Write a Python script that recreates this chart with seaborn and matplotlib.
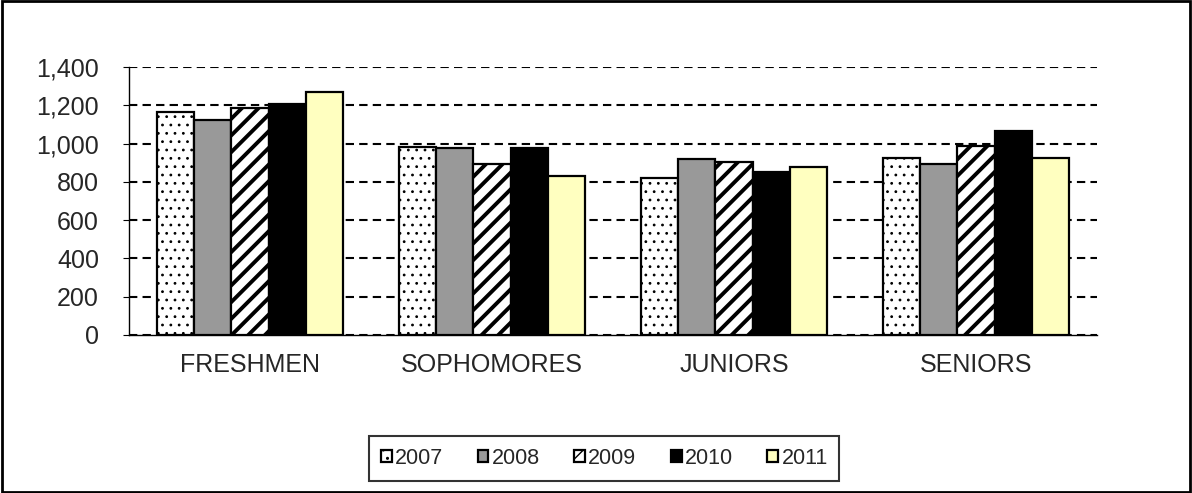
import matplotlib
matplotlib.use("Agg")
import matplotlib.pyplot as plt
import numpy as np
import pandas as pd
import seaborn as sns
from matplotlib.patches import Rectangle
from matplotlib.ticker import FuncFormatter, MultipleLocator

classes = ["FRESHMEN", "SOPHOMORES", "JUNIORS", "SENIORS"]
years = ["2007", "2008", "2009", "2010", "2011"]
counts_2007 = [1163, 984, 818, 926]
counts_2008 = [1123, 978, 919, 895]
counts_2009 = [1184, 893, 902, 989]
counts_2010 = [1208, 978, 851, 1066]
counts_2011 = [1268, 831, 876, 926]

colors = ["#FFFFFF", "#999999", "#FFFFFF", "#000000", "#FFFFC0"]
hatches = ["..", "", "//", "", ""]

rows = []
for year, vals in zip(years, [counts_2007, counts_2008, counts_2009, counts_2010, counts_2011]):
    for cls, v in zip(classes, vals):
        rows.append({"class": cls, "year": year, "count": v})
df = pd.DataFrame(rows)

sns.set_style("white")
plt.rcParams["font.family"] = ["Liberation Sans", "DejaVu Sans"]

fig = plt.figure(figsize=(11.92, 4.93), dpi=100)
ax = fig.add_axes([0.1082, 0.3205, 0.812, 0.5436])

sns.barplot(
    data=df, x="class", y="count", hue="year", order=classes, hue_order=years,
    palette=colors, width=0.77, edgecolor="black", linewidth=1.6,
    saturation=1, errorbar=None, ax=ax,
)

for container, hatch in zip(ax.containers, hatches):
    for bar in container.patches:
        bar.set_hatch(hatch)
        bar.set_edgecolor("black")
        if hatch == "//" and hasattr(bar, "set_hatch_linewidth"):
            bar.set_hatch_linewidth(2.8)
        elif hatch == ".." and hasattr(bar, "set_hatch_linewidth"):
            bar.set_hatch_linewidth(0.8)

ax.set_ylim(0, 1400)
ax.set_xlim(-0.5, 3.5)
ax.yaxis.set_major_locator(MultipleLocator(200))
ax.yaxis.set_major_formatter(FuncFormatter(lambda v, _: f"{int(v):,}"))
ax.grid(True, axis="y", color="black", linestyle=(0, (4, 2.5)), linewidth=1.5)
ax.set_axisbelow(True)

ax.set_xlabel("")
ax.set_ylabel("")
ax.set_xticks(np.arange(-0.5, 4, 1.0), minor=True)
ax.tick_params(axis="x", which="major", length=0, labelsize=18, pad=13)
ax.tick_params(axis="x", which="minor", length=10, direction="inout", color="black", width=0.8)
ax.tick_params(axis="y", which="major", length=4.5, direction="out", color="black", width=0.8,
               labelsize=18, pad=17, left=True)

for side in ["top", "right"]:
    ax.spines[side].set_visible(False)
for side in ["left", "bottom"]:
    ax.spines[side].set_color("black")
    ax.spines[side].set_linewidth(1.0)

legend_handles = [c.patches[0] for c in ax.containers]
if ax.get_legend() is not None:
    ax.get_legend().remove()
leg = fig.legend(
    legend_handles, years, loc="center", bbox_to_anchor=(0.507, 0.07), ncol=5,
    frameon=True, fancybox=False, fontsize=15.5, handlelength=0.5, handleheight=0.5,
    handletextpad=0.15, columnspacing=1.6, borderpad=0.55, borderaxespad=0,
)
leg.get_frame().set_edgecolor("black")
leg.get_frame().set_linewidth(1.5)

fig.patches.append(Rectangle((0.002, 0.003), 0.996, 0.994, transform=fig.transFigure,
                             fill=False, edgecolor="black", linewidth=2))

fig.savefig("out.png", dpi=100)
